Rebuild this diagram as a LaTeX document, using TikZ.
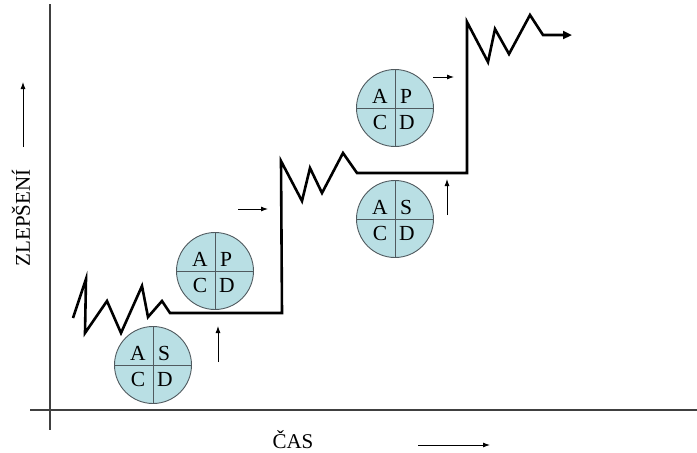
\documentclass[tikz,border=0pt]{standalone}
\usepackage{fontspec}
\setmainfont{Liberation Serif}
\usetikzlibrary{arrows.meta}
\definecolor{pdcafill}{RGB}{185,223,228}
\definecolor{pdcaline}{RGB}{80,90,95}
\tikzset{
  axisline/.style={draw=black!75, line width=1.1pt},
  curve/.style={draw=black, line width=2.6pt, line join=miter},
  smallarrow/.style={draw=black, line width=0.9pt, -{Latex[length=7pt,width=5pt]}},
  pdca/.style={circle, draw=pdcaline, fill=pdcafill, line width=0.9pt, minimum size=77pt, inner sep=0pt},
  quarter/.style={font=\fontsize{21.5}{21.5}\selectfont, inner sep=0pt},
  axislabel/.style={font=\fontsize{21}{21}\selectfont, inner sep=0pt}
}
\newcommand{\pdcacircle}[4]{%
  \node[pdca] (#1) at (#2) {};
  \draw[pdcaline, line width=0.9pt] (#1.north) -- (#1.south) (#1.west) -- (#1.east);
  \node[quarter] (#1a) at ([shift={(-15,-12)}]#1.center) {A};
  \node[quarter] (#1b) at ([shift={(11,-12)}]#1.center) {#3};
  \node[quarter] (#1c) at ([shift={(-15,14)}]#1.center) {C};
  \node[quarter] (#1d) at ([shift={(12,14)}]#1.center) {#4};
}
\begin{document}
\begin{tikzpicture}[x=1pt,y=-1pt]
\useasboundingbox (0,0) rectangle (697,453);
% axes
\coordinate (ytop) at (50,4);
\coordinate (ybot) at (50,430);
\coordinate (xl) at (30,410);
\coordinate (xr) at (697,410);
\draw[axisline] (ytop) -- (ybot);
\draw[axisline] (xl) -- (xr);
% axis labels
\node[axislabel, rotate=90] (ylab) at (21,218) {ZLEPŠENÍ};
\coordinate (ya1) at (23,147);
\coordinate (ya2) at (23,82);
\draw[smallarrow] (ya1) -- (ya2);
\node[axislabel] (xlab) at (293,440) {ČAS};
\coordinate (xa1) at (418,445);
\coordinate (xa2) at (490,445);
\draw[smallarrow] (xa1) -- (xa2);
% improvement curve
\coordinate (c0) at (73,318);
\coordinate (c9) at (572,35);
\draw[curve, -{Triangle[length=9pt,width=8pt]}] (c0) -- (86,279) -- (85,333) -- (107,301) -- (121,333) -- (142,286)
  -- (148,317) -- (162,301) -- (170,313) -- (282,313) -- (281,161) -- (302,201) -- (310,168)
  -- (322,193) -- (343,153) -- (357,173) -- (467,173) -- (467,22) -- (488,62) -- (495,29)
  -- (509,54) -- (530,15) -- (543,35) -- (c9);
% PDCA circles
\pdcacircle{p1}{153,365}{S}{D}
\pdcacircle{p2}{215,271}{P}{D}
\pdcacircle{p3}{395,219}{S}{D}
\pdcacircle{p4}{395,108}{P}{D}
% small arrows
\coordinate (s1a) at (218,362); \coordinate (s1b) at (218,326);
\draw[smallarrow] (s1a) -- (s1b);
\coordinate (s2a) at (238,209); \coordinate (s2b) at (268,209);
\draw[smallarrow] (s2a) -- (s2b);
\coordinate (s3a) at (447,215); \coordinate (s3b) at (447,179);
\draw[smallarrow] (s3a) -- (s3b);
\coordinate (s4a) at (433,77); \coordinate (s4b) at (454,77);
\draw[smallarrow] (s4a) -- (s4b);
\end{tikzpicture}
\end{document}
